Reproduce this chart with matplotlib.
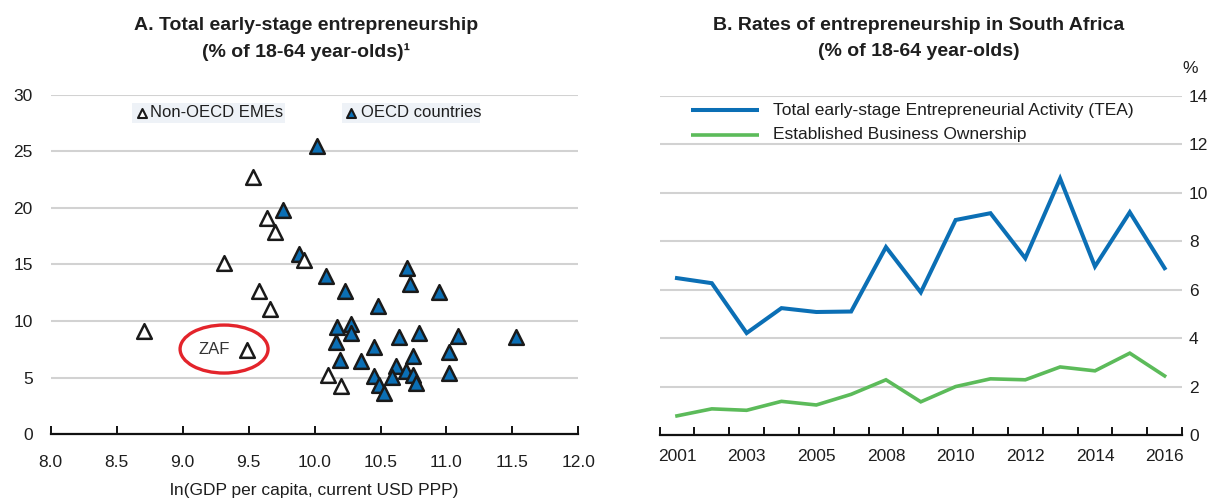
import matplotlib
matplotlib.use("Agg")
import matplotlib.pyplot as plt
from matplotlib.patches import Ellipse, Rectangle

plt.rcParams['font.family'] = ['Liberation Sans', 'DejaVu Sans']

# Panel A: ln(GDP per capita) vs total early-stage entrepreneurship
non_oecd_x = [9.53, 9.64, 9.70, 9.31, 9.92, 9.58, 9.66, 8.71, 10.10, 10.20]
non_oecd_y = [22.7, 19.08, 17.9, 15.16, 15.4, 12.7, 11.07, 9.13, 5.24, 4.30]
zaf_x, zaf_y = 9.49, 7.45
oecd_x = [10.02, 9.76, 9.88, 10.70, 10.09, 10.72, 10.23, 10.94, 10.48, 10.28,
          10.17, 10.28, 10.79, 11.09, 11.53, 10.64, 10.16, 10.45, 11.02, 10.75,
          10.19, 10.35, 10.62, 10.69, 11.02, 10.45, 10.59, 10.75, 10.77, 10.49,
          10.53]
oecd_y = [25.5, 19.8, 15.93, 14.66, 13.98, 13.28, 12.69, 12.54, 11.33, 9.74,
          9.45, 8.92, 8.98, 8.68, 8.62, 8.57, 8.13, 7.69, 7.30, 6.92,
          6.56, 6.50, 6.06, 5.59, 5.44, 5.18, 5.09, 5.24, 4.56, 4.36,
          3.62]
a_xticks = [8.0, 8.5, 9.0, 9.5, 10.0, 10.5, 11.0, 11.5, 12.0]
a_yticks = [0, 5, 10, 15, 20, 25, 30]

# Panel B: South Africa rates over time
years = ['2001', '2002', '2003', '2004', '2005', '2006', '2008', '2009',
         '2010', '2011', '2012', '2013', '2014', '2015', '2016']
tea = [6.48, 6.27, 4.21, 5.24, 5.08, 5.10, 7.76, 5.89, 8.88, 9.16, 7.30,
       10.59, 6.96, 9.20, 6.89]
ebo = [0.79, 1.08, 1.02, 1.39, 1.24, 1.68, 2.28, 1.37, 2.00, 2.32, 2.28,
       2.81, 2.65, 3.38, 2.44]
b_yticks = [0, 2, 4, 6, 8, 10, 12, 14]

BLUE = '#0B6FB5'
GREEN = '#5CBB5A'
GRID = '#D2D2D2'
TXT = '#1E1E1E'
FS = 12.5
MS = 112

fig = plt.figure(figsize=(12.23, 5.04), dpi=100)
fig.patch.set_facecolor('white')

# ---------------- Panel A ----------------
axA = fig.add_axes([0.0415, 0.1383, 0.4314, 0.6738])
axA.set_xlim(8.0, 12.0)
axA.set_ylim(0, 30)
axA.set_xticks(a_xticks)
axA.set_xticklabels([f'{v:.1f}' for v in a_xticks])
axA.set_yticks(a_yticks)
axA.yaxis.grid(True, color=GRID, lw=1.5)
axA.set_axisbelow(True)
for s in ['top', 'right', 'left']:
    axA.spines[s].set_visible(False)
axA.spines['bottom'].set_linewidth(1.6)
axA.spines['bottom'].set_color('#111111')
axA.tick_params(axis='x', direction='in', length=6, width=1.4, color='#111111',
                labelsize=FS, labelcolor=TXT, pad=15)
axA.tick_params(axis='y', length=0, labelsize=FS, labelcolor=TXT, pad=13)
axA.set_xlabel('ln(GDP per capita, current USD PPP)', fontsize=FS, color=TXT,
               labelpad=9)

axA.scatter(oecd_x, oecd_y, marker='^', s=MS, facecolor=BLUE,
            edgecolor='#1a1a1a', linewidths=1.8, zorder=3)
axA.scatter(non_oecd_x + [zaf_x], non_oecd_y + [zaf_y], marker='^', s=MS,
            facecolor='white', edgecolor='#1a1a1a', linewidths=1.8, zorder=4)

# ZAF highlight
axA.text(9.237, 7.53, 'ZAF', fontsize=12, color='#333333', ha='center',
         va='center', zorder=5)
axA.add_patch(Ellipse((9.314, 7.53), 0.667, 4.24, fill=False,
                      edgecolor='#E3242B', lw=2.4, zorder=5))

# Legend items for panel A
axA.add_patch(Rectangle((8.614, 27.5), 9.776 - 8.614, 1.77,
                        facecolor='#EEF2F7', edgecolor='none', zorder=2))
axA.add_patch(Rectangle((10.206, 27.5), 11.255 - 10.206, 1.77,
                        facecolor='#EEF2F7', edgecolor='none', zorder=2))
axA.scatter([8.69], [28.4], marker='^', s=42, facecolor='white',
            edgecolor='#1a1a1a', linewidths=1.5, zorder=3)
axA.scatter([10.28], [28.4], marker='^', s=42, facecolor=BLUE,
            edgecolor='#1a1a1a', linewidths=1.5, zorder=3)
axA.text(8.75, 28.4, 'Non-OECD EMEs', fontsize=12, color=TXT, va='center',
         ha='left', zorder=3)
axA.text(10.35, 28.4, 'OECD countries', fontsize=12, color=TXT, va='center',
         ha='left', zorder=3)

fig.text(0.2502, 0.950, 'A. Total early-stage entrepreneurship', fontsize=14,
         fontweight='bold', ha='center', va='center', color=TXT)
fig.text(0.2502, 0.897, '(% of 18-64 year-olds)\u00b9', fontsize=14,
         fontweight='bold', ha='center', va='center', color=TXT)

# ---------------- Panel B ----------------
axB = fig.add_axes([0.5393, 0.1369, 0.4272, 0.6726])
pos = list(range(len(years)))
axB.plot(pos, tea, color=BLUE, lw=2.9, solid_joinstyle='miter', zorder=3)
axB.plot(pos, ebo, color=GREEN, lw=2.6, solid_joinstyle='miter', zorder=3)
axB.set_xlim(-0.5, len(years) - 0.5)
axB.set_ylim(0, 14)
axB.set_yticks(b_yticks)
axB.yaxis.tick_right()
axB.yaxis.grid(True, color=GRID, lw=1.5)
axB.set_axisbelow(True)
for s in ['top', 'right', 'left']:
    axB.spines[s].set_visible(False)
axB.spines['bottom'].set_linewidth(1.6)
axB.spines['bottom'].set_color('#111111')
# tick marks at category boundaries, labels at every other category
axB.set_xticks([p - 0.5 for p in pos] + [pos[-1] + 0.5])
axB.set_xticklabels([])
axB.set_xticks(pos[::2], minor=True)
axB.set_xticklabels(years[::2], minor=True)
axB.tick_params(axis='x', which='major', direction='in', length=6, width=1.4,
                color='#111111')
axB.tick_params(axis='x', which='minor', length=0, labelsize=FS,
                labelcolor=TXT, pad=10)
axB.tick_params(axis='y', length=0, labelsize=FS, labelcolor=TXT, pad=5)
axB.text(1.0, 1.08, '%', transform=axB.transAxes, fontsize=FS, color=TXT,
         ha='left', va='center')

# Legend for panel B
for yy, col, lw, lab in [(0.9587, BLUE, 2.9,
                           'Total early-stage Entrepreneurial Activity (TEA)'),
                          (0.885, GREEN, 2.6, 'Established Business Ownership')]:
    axB.plot([0.0593, 0.1897], [yy, yy], color=col, lw=lw,
             transform=axB.transAxes, solid_capstyle='butt', clip_on=False)
    axB.text(0.2172, yy, lab, transform=axB.transAxes, fontsize=FS, color=TXT,
             ha='left', va='center')

fig.text(0.7514, 0.950, 'B. Rates of entrepreneurship in South Africa',
         fontsize=14, fontweight='bold', ha='center', va='center', color=TXT)
fig.text(0.7514, 0.897, '(% of 18-64 year-olds)', fontsize=14,
         fontweight='bold', ha='center', va='center', color=TXT)

fig.savefig('out.png', dpi=100, facecolor='white')
